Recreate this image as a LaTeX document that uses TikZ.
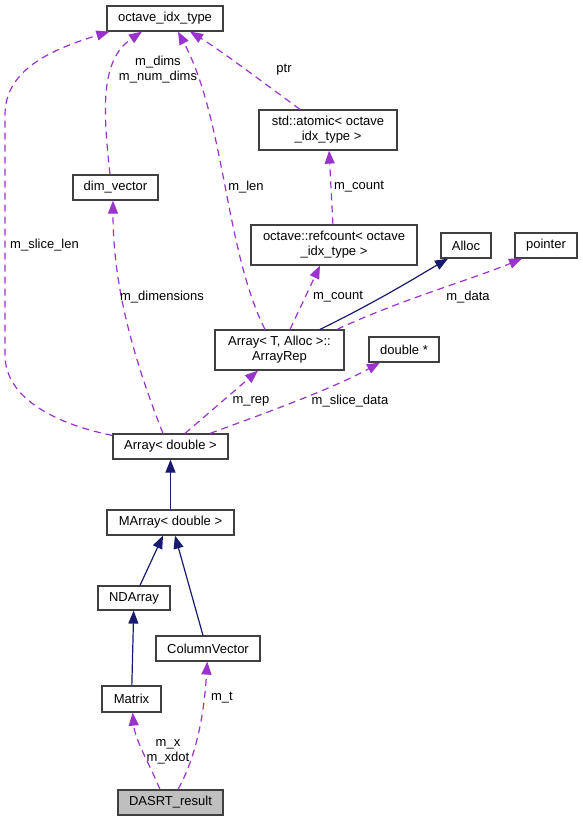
\documentclass[tikz,border=0pt]{standalone}
\usepackage{fontspec}
\setmainfont{Liberation Sans}
\usetikzlibrary{arrows.meta}
\definecolor{membercol}{HTML}{9A32CD}
\definecolor{inheritcol}{HTML}{191970}
\definecolor{boxcol}{HTML}{404040}
\tikzstyle{cls} = [draw=boxcol, line width=1.2pt, inner sep=0pt, minimum height=25pt, align=center, font=\fontsize{13}{15}\selectfont]
\tikzstyle{member} = [draw=membercol, line width=1.2pt, dash pattern=on 7pt off 5pt, -{Triangle[length=13pt,width=10pt,fill=membercol,sep=0pt]}]
\tikzstyle{inherit} = [draw=inheritcol, line width=1.2pt, -{Triangle[length=13pt,width=10pt,fill=inheritcol]}]
\tikzstyle{lbl} = [inner sep=0pt, align=center, font=\fontsize{13}{15}\selectfont]

\begin{document}
\begin{tikzpicture}[x=1pt, y=-1pt]
                \useasboundingbox (0,0) rectangle (583,823);

                \node (oit) [cls, minimum width=116pt] at (165,18.5) {octave\_idx\_type};
                \node (atomic) [cls, minimum width=138pt, minimum height=40pt] at (328,130) {std::atomic< octave\\\_idx\_type >};
                \node (dimv) [cls, minimum width=85pt] at (115.5,187.5) {dim\_vector};
                \node (refc) [cls, minimum width=166pt, minimum height=40pt] at (334,245) {octave::refcount< octave\\\_idx\_type >};
                \node (alloc) [cls, minimum width=50pt] at (466,245.5) {Alloc};
                \node (pointer) [cls, minimum width=62pt] at (546,245.5) {pointer};
                \node (arep) [cls, minimum width=129pt, minimum height=40pt] at (279.5,350) {Array< T, Alloc >::\\ArrayRep};
                \node (dptr) [cls, minimum width=70pt] at (404,349.5) {double *};
                \node (adbl) [cls, minimum width=115pt] at (170.5,446.5) {Array< double >};
                \node (madbl) [cls, minimum width=127pt] at (170.5,522.5) {MArray< double >};
                \node (nda) [cls, minimum width=72pt, minimum height=24pt] at (134,598) {NDArray};
                \node (colv) [cls, minimum width=104pt] at (208,648.5) {ColumnVector};
                \node (mtx) [cls, minimum width=59pt, minimum height=26pt] at (131.5,699) {Matrix};
                \node (dasrt) [cls, minimum width=105pt, fill=black!25] at (170.5,802.5) {DASRT\_result};

                \draw [inherit] (madbl) -- (adbl);
                \draw [inherit] ([xshift=6pt]nda.north) -- ([xshift=-7.5pt]madbl.south);
                \draw [inherit] ([xshift=-5pt]colv.north) -- ([xshift=4.5pt]madbl.south);
                \draw [inherit] (mtx) -- (nda);
                \draw [inherit] ([xshift=40.5pt]arep.north) .. controls (380,300) and (420,275) .. ([xshift=-18pt]alloc.south);

                \draw [member] ([yshift=-2pt]adbl.north west) .. controls (60,425) and (5,400) .. (5,355) -- (5,115) .. controls (5,70) and (50,50) .. ([xshift=3pt]oit.south west);
                \draw [member] ([xshift=-5.5pt]dimv.north) .. controls (103,110) and (100,60) .. ([xshift=-23pt]oit.south);
                \draw [member] ([xshift=-14.5pt]arep.north) .. controls (225,250) and (225,120) .. ([xshift=13pt]oit.south);
                \draw [member] ([xshift=-28pt]atomic.north) .. controls (260,80) and (220,50) .. ([xshift=25pt]oit.south);
                \draw [member] (refc) -- (atomic);
                \draw [member] ([xshift=10.5pt]arep.north) -- ([xshift=-14pt]refc.south);
                \draw [member] ([xshift=57.5pt]arep.north) .. controls (400,300) and (470,280) .. ([xshift=-24pt]pointer.south);
                \draw [member] ([xshift=14.5pt]adbl.north) -- ([xshift=-21.5pt]arep.south);
                \draw [member] ([xshift=39.5pt]adbl.north) .. controls (260,415) and (330,390) .. ([xshift=-24pt]dptr.south);
                \draw [member] ([xshift=-7.5pt]adbl.north) .. controls (130,350) and (113,280) .. ([xshift=-2.5pt]dimv.south);
                \draw [member] ([xshift=-10.5pt]dasrt.north) .. controls (150,765) and (135,740) .. (mtx);
                \draw [member] ([xshift=7.5pt]dasrt.north) .. controls (200,750) and (205,700) .. (colv);

                \node (l1) [lbl] at (158,70) {m\_dims\\m\_num\_dims};
                \node (l2) [lbl] at (284,70) {ptr};
                \node (l3) [lbl] at (246,187) {m\_len};
                \node (l4) [lbl] at (359,187) {m\_count};
                \node (l5) [lbl, anchor=west] at (10,245) {m\_slice\_len};
                \node (l6) [lbl] at (162,297) {m\_dimensions};
                \node (l7) [lbl] at (338,297) {m\_count};
                \node (l8) [lbl] at (468,297) {m\_data};
                \node (l9) [lbl] at (251,401) {m\_rep};
                \node (l10) [lbl] at (350,401) {m\_slice\_data};
                \node (l11) [lbl] at (168,752) {m\_x\\m\_xdot};
                \node (l12) [lbl] at (222,698) {m\_t};
            \end{tikzpicture}
\end{document}
